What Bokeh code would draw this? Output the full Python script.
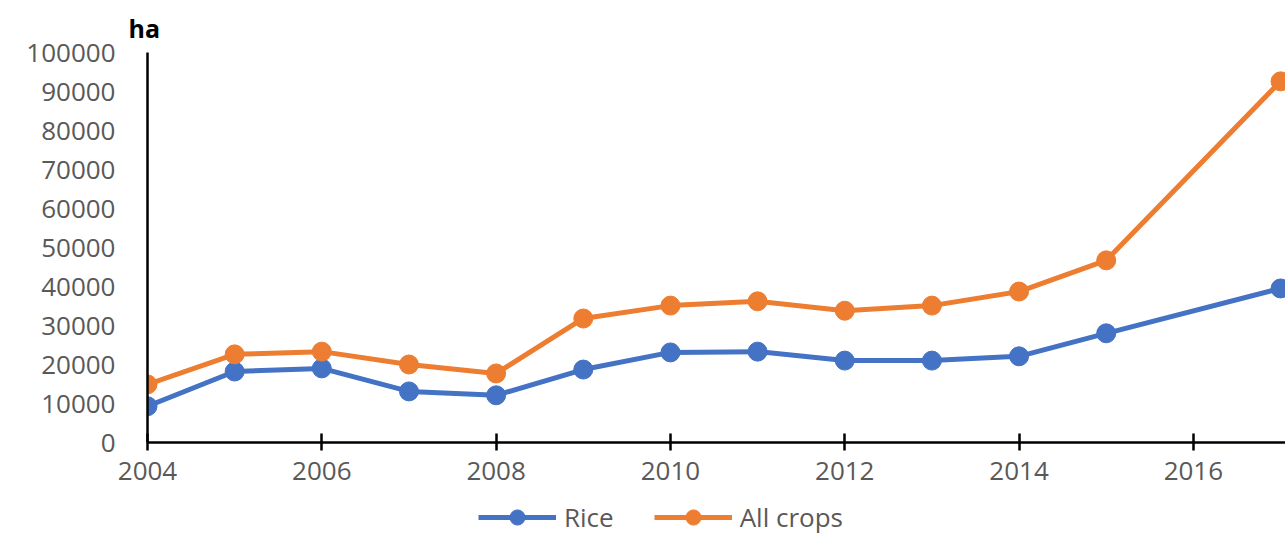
from bokeh.plotting import figure
from bokeh.layouts import column
from bokeh.models import Range1d, Legend, LegendItem, Title, FixedTicker, NumeralTickFormatter
from bokeh.embed import file_html
from bokeh.resources import INLINE

years = [2004, 2005, 2006, 2007, 2008, 2009, 2010, 2011, 2012, 2013, 2014, 2015, 2017]
rice = [9300, 18200, 19000, 13100, 12100, 18700, 23100, 23300, 21000, 21000, 22100, 28000, 39500]
all_crops = [14900, 22600, 23300, 20000, 17700, 31800, 35100, 36200, 33800, 35100, 38700, 46700, 92600]
x_ticks = [2004, 2006, 2008, 2010, 2012, 2014, 2016]
y_ticks = [0, 10000, 20000, 30000, 40000, 50000, 60000, 70000, 80000, 90000, 100000]
series_names = ["Rice", "All crops"]

BLUE = "#4472C4"
ORANGE = "#ED7D31"
GREY = "#595959"
FONT = "Open Sans"

p = figure(width=1285, height=498, output_backend="svg", toolbar_location=None,
           x_range=Range1d(2004, 2017.057), y_range=Range1d(0, 100000),
           min_border_left=147, min_border_right=0, min_border_top=52, min_border_bottom=56)
p.outline_line_color = None
p.xgrid.visible = False
p.ygrid.visible = False

p.line(years, rice, line_color=BLUE, line_width=5)
p.scatter(years, rice, size=19, fill_color=BLUE, line_color=BLUE)
p.line(years, all_crops, line_color=ORANGE, line_width=5)
p.scatter(years, all_crops, size=19, fill_color=ORANGE, line_color=ORANGE)

for ax in (p.xaxis[0], p.yaxis[0]):
    ax.axis_line_color = "black"
    ax.axis_line_width = 2.5
    ax.minor_tick_line_color = None
    ax.major_label_text_color = GREY
    ax.major_label_text_font = FONT
    ax.major_label_text_font_size = "26px"

p.xaxis.ticker = FixedTicker(ticks=x_ticks)
p.xaxis.major_tick_in = 9
p.xaxis.major_tick_out = 8
p.xaxis.major_tick_line_color = "black"
p.xaxis.major_tick_line_width = 2.5
p.xaxis.major_label_standoff = 11

p.yaxis.ticker = FixedTicker(ticks=y_ticks)
p.yaxis.formatter = NumeralTickFormatter(format="0")
p.yaxis.major_tick_in = 0
p.yaxis.major_tick_out = 0
p.yaxis.major_label_standoff = 32

p.add_layout(Title(text="ha", align="left", offset=-19, standoff=15, text_font=FONT,
                   text_font_size="25px", text_color="black", text_font_style="bold"), "above")

# legend strip below the chart (its series renderers sit outside its visible range)
lg = figure(width=1285, height=38, output_backend="svg", toolbar_location=None,
            x_range=Range1d(0, 1), y_range=Range1d(0, 1),
            min_border_left=0, min_border_right=0, min_border_top=0, min_border_bottom=0)
lg.axis.visible = False
lg.grid.visible = False
lg.outline_line_color = None
colors = [BLUE, ORANGE]
items = []
for name, c, vals in zip(series_names, colors, [rice, all_crops]):
    rl = lg.line(years, vals, line_color=c, line_width=5)
    rs = lg.scatter(years, vals, size=19, fill_color=c, line_color=c)
    items.append(LegendItem(label=name, renderers=[rl, rs]))
legend = Legend(items=items, orientation="horizontal", location=(331, 0),
                label_text_font=FONT, label_text_font_size="26px", label_text_color=GREY,
                glyph_width=78, glyph_height=38, spacing=40, padding=0, margin=0,
                label_standoff=8, border_line_color=None, background_fill_alpha=0)
lg.add_layout(legend)

layout = column(p, lg, spacing=0)
open("out.html", "w").write(file_html(layout, INLINE))
